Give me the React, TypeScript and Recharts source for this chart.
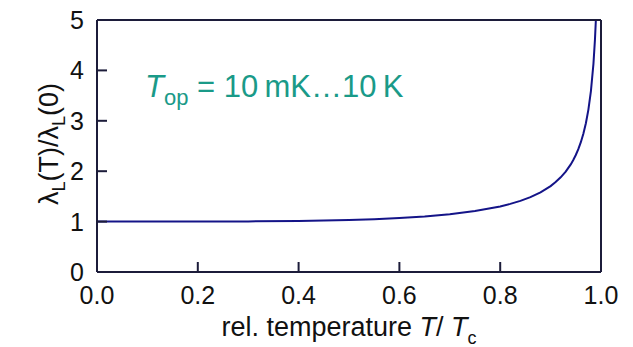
import React from "react";
import { LineChart, Line, XAxis, YAxis } from "recharts";

// reduced temperature T/Tc and penetration depth ratio
const tRel = [
  0, 0.1, 0.2, 0.3, 0.4, 0.45, 0.5, 0.55, 0.6, 0.65, 0.7, 0.75, 0.8, 0.82,
  0.84, 0.86, 0.88, 0.9, 0.91, 0.92, 0.93, 0.94, 0.945, 0.95, 0.955, 0.96,
  0.965, 0.97, 0.975, 0.98, 0.985, 0.988, 0.99, 0.995, 1.0, 1.0,
];
const lambdaRatio = [
  1.0, 1.0, 1.001, 1.004, 1.013, 1.021, 1.033, 1.049, 1.072, 1.103, 1.147,
  1.209, 1.3, 1.351, 1.411, 1.486, 1.581, 1.705, 1.784, 1.879, 1.992, 2.135,
  2.222, 2.322, 2.438, 2.576, 2.744, 2.953, 3.223, 3.59, 4.13, 4.61, 5.04, 7.1,
  40, 0,
];

const xTicks = [0, 0.2, 0.4, 0.6, 0.8, 1.0];
const yTicks = [0, 1, 2, 3, 4, 5];

const data = tRel.map((t, i) => ({ t, r: lambdaRatio[i] }));

const FONT = "Liberation Sans, Arial, sans-serif";
const INK = "#111";
const FRAME = "#1c1c3a";

const XTick = (props: any) => (
  <text
    x={props.x}
    y={props.y}
    dy={18}
    textAnchor="middle"
    fontSize={25}
    fontFamily={FONT}
    fill={INK}
  >
    {Number(props.payload.value).toFixed(1)}
  </text>
);

const YTick = (props: any) => (
  <text
    x={props.x}
    y={props.y}
    dy={9}
    textAnchor="end"
    fontSize={25}
    fontFamily={FONT}
    fill={INK}
  >
    {props.payload.value}
  </text>
);

export default function App() {
  return (
    <div style={{ position: "absolute", left: 0, top: 0, width: 633, height: 347 }}>
      <LineChart
        width={633}
        height={347}
        data={data}
        margin={{ top: 19, right: 31, bottom: 74, left: 96 }}
      >
        <XAxis
          xAxisId="b"
          dataKey="t"
          type="number"
          domain={[0, 1]}
          ticks={xTicks}
          height={1}
          tickSize={-10}
          tickMargin={24}
          tick={XTick}
          stroke={FRAME}
          strokeWidth={2}
        />
        <XAxis
          xAxisId="t"
          orientation="top"
          dataKey="t"
          type="number"
          domain={[0, 1]}
          ticks={xTicks}
          height={1}
          tickSize={-10}
          tick={false}
          stroke={FRAME}
          strokeWidth={2}
        />
        <YAxis
          yAxisId="l"
          type="number"
          domain={[0, 5]}
          ticks={yTicks}
          width={1}
          tickSize={-10}
          tickMargin={23}
          tick={YTick}
          stroke={FRAME}
          strokeWidth={2}
          allowDataOverflow
        />
        <YAxis
          yAxisId="r"
          orientation="right"
          type="number"
          domain={[0, 5]}
          ticks={yTicks}
          width={1}
          tickSize={-10}
          tick={false}
          stroke={FRAME}
          strokeWidth={2}
        />
        <Line
          xAxisId="b"
          yAxisId="l"
          type="linear"
          dataKey="r"
          stroke="#141488"
          strokeWidth={2}
          dot={false}
          isAnimationActive={false}
        />
      </LineChart>
      <svg
        width={633}
        height={347}
        style={{ position: "absolute", left: 0, top: 0, pointerEvents: "none" }}
      >
        <text x={145} y={97} fontSize={31} fontFamily={FONT} fill="#1a9a88">
          <tspan fontStyle="italic">T</tspan>
          <tspan fontSize={22} dy={8}>
            op
          </tspan>
          <tspan dy={-8}> = 10{"\u2009"}mK…10{"\u2009"}K</tspan>
        </text>
        <text
          x={349}
          y={336}
          textAnchor="middle"
          fontSize={27}
          fontFamily={FONT}
          fill={INK}
        >
          rel. temperature <tspan fontStyle="italic">T</tspan>/{" "}
          <tspan fontStyle="italic">T</tspan>
          <tspan fontSize={18} dy={8}>
            c
          </tspan>
        </text>
        <text
          x={0}
          y={0}
          transform="translate(58,144) rotate(-90)"
          textAnchor="middle"
          fontSize={27}
          fontFamily={FONT}
          fill={INK}
        >
          λ
          <tspan fontSize={18} dy={7}>
            L
          </tspan>
          <tspan dy={-7}>(T)/λ</tspan>
          <tspan fontSize={18} dy={7}>
            L
          </tspan>
          <tspan dy={-7}>(0)</tspan>
        </text>
      </svg>
    </div>
  );
}
